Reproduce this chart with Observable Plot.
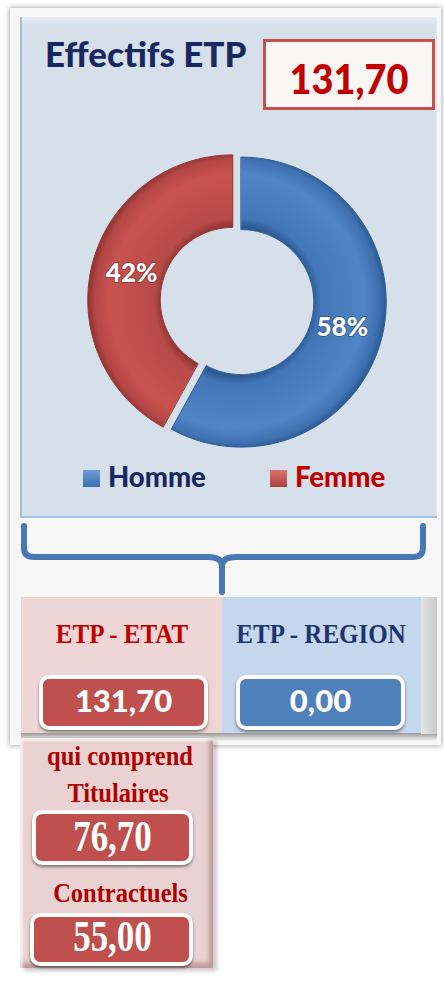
<!DOCTYPE html>
<html><head><meta charset="utf-8">
<script src="https://cdn.jsdelivr.net/npm/d3@7"></script>
<script src="https://cdn.jsdelivr.net/npm/@observablehq/plot@0.6"></script>
<style>
html,body{margin:0;padding:0;background:#fff;}
#page{position:relative;width:444px;height:982px;overflow:hidden;font-family:Lato,sans-serif;}
.abs{position:absolute;box-sizing:border-box;}
svg{overflow:visible;}
</style></head>
<body><div id="page"></div>
<script>
// ---- data ----
const title = "Effectifs ETP";
const totalEtp = 131.70;
const genres = ["Homme", "Femme"];
const parts = [58, 42];
const etpLabels = ["ETP - ETAT", "ETP - REGION"];
const etpValues = [131.70, 0.00];
const intro = "qui comprend";
const detailLabels = ["Titulaires", "Contractuels"];
const detailValues = [76.70, 55.00];

// ---- styles ----
const sliceColors = ["#4f81bd", "#c0504d"];
const textColors = ["#17275f", "#c00000"];
const fr = v => v.toFixed(2).replace(".", ",");

const page = d3.select("#page");
function box(l, t, w, h, style) {
  const d = page.append("div").attr("class", "abs")
    .style("left", l + "px").style("top", t + "px")
    .style("width", w + "px").style("height", h + "px");
  for (const k in style) d.style(k, style[k]);
  return d;
}

// card + panels
box(10, 8, 431, 737, {background: "#f7f7f7", "box-shadow": "0 0 5px 1px rgba(0,0,0,0.3)"});
box(20, 17, 417, 501, {background: "#d6e0eb", "box-shadow": "inset 2px 0 0 #a9bdd6, inset 0 4px 4px #e8eef6", "border-bottom": "2px solid #9dc0e8"});
box(263, 39, 172, 71, {background: "#f9f6f6", border: "3px solid #c5504d"});
// legend swatches
genres.forEach((g, i) => {
  box(i === 0 ? 83 : 270, 470, 17, 17, {background: `linear-gradient(${i === 0 ? "#6d9bd6, #3c6fae" : "#d9726f, #b0403d"})`});
});
// ETP boxes
box(21, 597, 201, 137, {background: "#efd6d6"});
box(222, 597, 199, 137, {background: "#c5d7ec"});
box(21, 733, 416, 8, {background: "linear-gradient(#9a9a9a, rgba(200,200,200,0))"});
box(421, 597, 16, 137, {background: "linear-gradient(90deg, #e6e6e6, #c9c9c9)"});
// value pills
const pill = (l, t, w, h, c) => box(l, t, w, h, {background: c, border: "4px solid #fdfdfd", "border-radius": "10px", "box-shadow": "0 2px 3px rgba(0,0,0,0.45)"});
pill(39, 675, 169, 55, sliceColors[1]);
pill(236, 675, 169, 55, sliceColors[0]);
// lower detail box
box(20, 738, 193, 230, {background: "#ebd2d2", "box-shadow": "4px 3px 4px rgba(0,0,0,0.2), inset 3px 3px 2px rgba(255,255,255,0.6), inset -4px -5px 5px rgba(140,80,80,0.45)"});
pill(32, 810, 161, 55, sliceColors[1]);
pill(30, 913, 163, 53, sliceColors[1]);

// bracket
const br = page.append("svg").attr("class", "abs").attr("width", 444).attr("height", 982).style("left", "0px").style("top", "0px");
br.append("path")
  .attr("d", "M24 526 L24 548 Q24 557 34 557 L208 557 Q222 557 222 566 L222 592 M222 566 Q222 557 236 557 L413 557 Q423 557 423 548 L423 526")
  .attr("fill", "none").attr("stroke", "#4a78b5").attr("stroke-width", 6).attr("stroke-linecap", "round").attr("stroke-linejoin", "round");

// ---- donut with Plot ----
const cx = 236.5, cy = 300.5, R = 145, inner = 0.5, explode = 0.03;
const arcs = d3.pie().sort(null).value(d => d)(parts);
const rings = arcs.map((a, i) => {
  const mid = (a.startAngle + a.endAngle) / 2;
  const ox = explode * Math.sin(mid), oy = explode * Math.cos(mid);
  const pts = [];
  const n = 120;
  for (let k = 0; k <= n; k++) {
    const t = a.startAngle + (a.endAngle - a.startAngle) * k / n;
    pts.push({x: ox + Math.sin(t), y: oy + Math.cos(t)});
  }
  for (let k = n; k >= 0; k--) {
    const t = a.startAngle + (a.endAngle - a.startAngle) * k / n;
    pts.push({x: ox + inner * Math.sin(t), y: oy + inner * Math.cos(t)});
  }
  return pts;
});
const labels = arcs.map((a, i) => {
  const mid = (a.startAngle + a.endAngle) / 2, r = (1 + inner) / 2;
  return {x: r * Math.sin(mid), y: r * Math.cos(mid), text: parts[i] + "%"};
});
const E = 1.3;
const plot = Plot.plot({
  width: 444, height: 470, margin: 0,
  style: {background: "transparent", overflow: "visible"},
  x: {domain: [-E, E], range: [cx - E * R, cx + E * R], axis: null},
  y: {domain: [-E, E], range: [cy + E * R, cy - E * R], axis: null},
  marks: [
    ...rings.map((pts, i) => Plot.line(pts, {x: "x", y: "y", curve: "linear-closed", fill: `url(#grad${i})`, stroke: i === 0 ? "#2f5f98" : "#9a3633", strokeWidth: 1})),
    Plot.text(labels, {x: "x", y: "y", text: "text", fill: "white", fontSize: 26, fontWeight: 900, fontFamily: "Lato", stroke: "rgba(0,0,0,0.25)", strokeWidth: 2, paintOrder: "stroke"})
  ]
});
const defs = d3.select(plot).insert("defs", ":first-child");
const gstops = [
  [["0", "#2c5a92"], ["0.5", "#2c5a92"], ["0.56", "#4276b8"], ["0.85", "#4f85c6"], ["0.95", "#3f71b0"], ["1", "#2a5890"]],
  [["0", "#8f3331"], ["0.5", "#8f3331"], ["0.56", "#b84a47"], ["0.85", "#c9524f"], ["0.95", "#b44644"], ["1", "#8d3330"]]
];
gstops.forEach((s, i) => {
  const g = defs.append("radialGradient").attr("id", "grad" + i).attr("gradientUnits", "userSpaceOnUse")
    .attr("cx", cx).attr("cy", cy).attr("r", R * (1 + explode));
  s.forEach(([o, c]) => g.append("stop").attr("offset", o).attr("stop-color", c));
});
d3.select(plot).attr("class", "abs").style("left", "0px").style("top", "0px");
page.node().appendChild(plot);

// ---- texts ----
const tx = page.append("svg").attr("class", "abs").attr("width", 444).attr("height", 982).style("left", "0px").style("top", "0px");
function txt(s, x, y, o) {
  tx.append("text").text(s)
    .attr("transform", `translate(${x},${y}) scale(1,${o.sy || 1})`)
    .attr("text-anchor", o.anchor || "middle")
    .attr("font-family", o.serif ? "'Liberation Serif', serif" : "Lato, sans-serif")
    .attr("font-weight", o.serif ? 700 : 900).attr("font-size", o.size)
    .attr("fill", o.color);
}
txt(title, 45, 67, {anchor: "start", size: 35, color: textColors[0]});
txt(fr(totalEtp), 349, 94, {size: 38, sy: 1.12, color: textColors[1]});
genres.forEach((g, i) => txt(g, i === 0 ? 108 : 295, 487, {anchor: "start", size: 27.5, color: textColors[i]}));
etpLabels.forEach((s, i) => txt(s, i === 0 ? 122 : 321, 643, {serif: true, size: 25, sy: 1.1, color: i === 0 ? "#c00000" : "#1c3470"}));
etpValues.forEach((v, i) => txt(fr(v), i === 0 ? 123.5 : 320.5, 712, {size: 31, color: "#fff"}));
txt(intro, 120, 765, {serif: true, size: 24.5, sy: 1.15, color: "#b00000"});
detailLabels.forEach((s, i) => txt(s, i === 0 ? 118 : 120.5, i === 0 ? 802 : 902, {serif: true, size: 24.5, sy: 1.15, color: "#b00000"}));
detailValues.forEach((v, i) => txt(fr(v), 112.5, i === 0 ? 851 : 951, {serif: true, size: 35, sy: 1.25, color: "#fff"}));
</script>
</body></html>
